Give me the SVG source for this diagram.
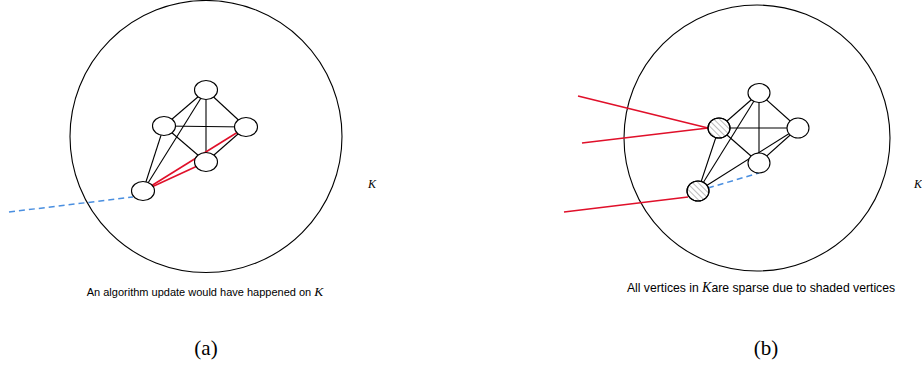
<svg xmlns="http://www.w3.org/2000/svg" width="922" height="366" viewBox="0 0 922 366">
<defs>
<pattern id="hatch" patternUnits="userSpaceOnUse" width="4" height="4" patternTransform="rotate(-45)">
<line x1="0" y1="0" x2="0" y2="4" stroke="#555" stroke-width="0.8"/>
</pattern>
</defs>
<style>
.big{fill:none;stroke:#000;stroke-width:1.1}
.node{fill:#fff;stroke:#000;stroke-width:1.1}
.shaded{fill:url(#hatch);stroke:#000;stroke-width:1.1}
.e{stroke:#000;stroke-width:1.1;fill:none}
.r{stroke:#e0102a;stroke-width:1.6;fill:none}
.b{stroke:#4a8fe0;stroke-width:1.5;fill:none;stroke-dasharray:6,4}
.cap{font-family:"Liberation Sans",Arial,sans-serif;font-size:11px;fill:#000}
.capb{font-family:"Liberation Sans",Arial,sans-serif;font-size:12.2px;fill:#000}
.k{font-family:"Liberation Serif","Times New Roman",serif;font-style:italic;font-size:12px;fill:#000}
.lab{font-family:"Liberation Serif","Times New Roman",serif;font-size:21px;fill:#000}
</style>
<g id="regionA"><circle class="big" cx="206" cy="136.5" r="136"/></g>
<g id="regionB"><circle class="big" cx="757" cy="138" r="133"/></g>
<g id="connectors">
<line class="e" x1="206" y1="90" x2="164" y2="126"/>
<line class="e" x1="206" y1="90" x2="246" y2="127"/>
<line class="e" x1="206" y1="90" x2="206" y2="162"/>
<line class="e" x1="206" y1="90" x2="143" y2="191"/>
<line class="e" x1="164" y1="126" x2="246" y2="127"/>
<line class="e" x1="164" y1="126" x2="206" y2="162"/>
<line class="e" x1="164" y1="126" x2="143" y2="191"/>
<line class="e" x1="246" y1="127" x2="206" y2="162"/>
<line class="r" x1="143" y1="191" x2="246" y2="127"/>
<line class="r" x1="143" y1="191" x2="206" y2="162"/>
<line class="b" x1="9" y1="212" x2="133" y2="197"/>
<line class="e" x1="759" y1="93" x2="719" y2="128"/>
<line class="e" x1="759" y1="93" x2="798" y2="128"/>
<line class="e" x1="759" y1="93" x2="759" y2="163"/>
<line class="e" x1="759" y1="93" x2="698" y2="191"/>
<line class="e" x1="719" y1="128" x2="798" y2="128"/>
<line class="e" x1="719" y1="128" x2="759" y2="163"/>
<line class="e" x1="719" y1="128" x2="698" y2="191"/>
<line class="e" x1="798" y1="128" x2="759" y2="163"/>
<line class="e" x1="798" y1="128" x2="698" y2="191"/>
<line class="b" x1="708" y1="188" x2="759" y2="173"/>
<line class="r" x1="578" y1="96" x2="708" y2="128"/>
<line class="r" x1="582" y1="143" x2="708" y2="128"/>
<line class="r" x1="564" y1="212" x2="688" y2="197"/>
</g>
<g id="a-top"><ellipse class="node" cx="206" cy="90" rx="11.5" ry="9.5"/></g>
<g id="a-left"><ellipse class="node" cx="164" cy="126" rx="11.5" ry="9.5"/></g>
<g id="a-right"><ellipse class="node" cx="246" cy="127" rx="11.5" ry="9.5"/></g>
<g id="a-mid"><ellipse class="node" cx="206" cy="162" rx="11.5" ry="9.5"/></g>
<g id="a-bl"><ellipse class="node" cx="143" cy="191" rx="11.5" ry="9.5"/></g>
<g id="b-top"><ellipse class="node" cx="759" cy="93" rx="11" ry="9.5"/></g>
<g id="b-left"><ellipse class="node" cx="719" cy="128" rx="11" ry="10"/><ellipse class="shaded" cx="719" cy="128" rx="11" ry="10"/></g>
<g id="b-right"><ellipse class="node" cx="798" cy="128" rx="11" ry="10"/></g>
<g id="b-mid"><ellipse class="node" cx="759" cy="163" rx="11" ry="10"/></g>
<g id="b-bl"><ellipse class="node" cx="698" cy="191" rx="11" ry="10"/><ellipse class="shaded" cx="698" cy="191" rx="11" ry="10"/></g>
<g id="labels">
<text class="k" x="368" y="188">K</text>
<text class="k" x="914" y="188">K</text>
<text class="cap" x="205" y="296" text-anchor="middle">An algorithm update would have happened on <tspan class="k" style="font-size:13.5px">K</tspan></text>
<text class="capb" x="761" y="292" text-anchor="middle">All vertices in <tspan class="k" style="font-size:14px">K</tspan>are sparse due to shaded vertices</text>
<text class="lab" x="206" y="355" text-anchor="middle">(a)</text>
<text class="lab" x="766" y="355" text-anchor="middle">(b)</text>
</g>
</svg>
